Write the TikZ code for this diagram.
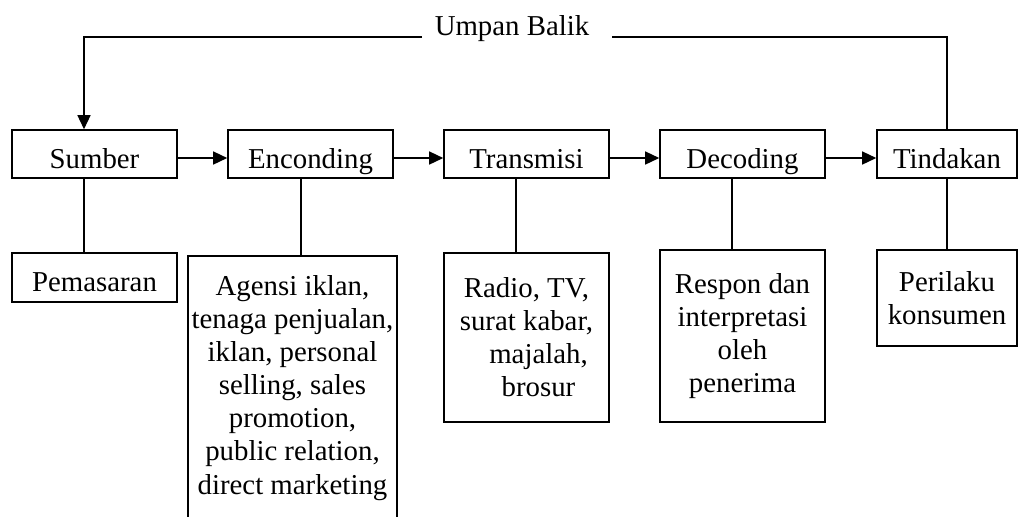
\documentclass[tikz,border=0pt]{standalone}
\usepackage{fontspec}
\setmainfont{Liberation Serif}
\usetikzlibrary{arrows.meta}
\tikzset{
  kotak/.style={draw, line width=0.9pt, inner xsep=1pt, align=center, minimum width=3.3cm},
  satubaris/.style={kotak, minimum height=0.96cm, text height=0.56cm, text depth=0pt},
  garis/.style={line width=0.8pt},
  panah/.style={garis, -{Triangle[length=0.28cm, width=0.26cm]}},
}
\begin{document}
\begin{tikzpicture}[font=\fontsize{16.4pt}{18.8pt}\selectfont]
  \useasboundingbox (0,0) rectangle (20.38,-10.32);
  \clip (0,0) rectangle (20.38,-10.32);
  % alur utama
  \node[satubaris] (sumber) at (1.89,-3.08) {Sumber};
  \node[satubaris] (enc) at (6.21,-3.08) {Enconding};
  \node[satubaris] (trans) at (10.53,-3.08) {Transmisi};
  \node[satubaris] (dec) at (14.85,-3.08) {Decoding};
  \node[satubaris, minimum width=2.8cm] (tind) at (18.94,-3.08) {Tindakan};
  % keterangan
  \node[satubaris, minimum height=0.98cm] (pemasaran) at (1.89,-5.55) {Pemasaran};
  \node[kotak, minimum width=4.18cm, minimum height=5.28cm] (agensi) at (5.85,-7.76) {Agensi iklan,\\ tenaga penjualan,\\ iklan, personal\\ selling, sales\\ promotion,\\ public relation,\\ direct marketing};
  \node[kotak, minimum height=3.38cm] (media) at (10.53,-6.75) {Radio, TV,\\ surat kabar,\\ \hspace{0.48cm}majalah,\\ \hspace{0.48cm}brosur};
  \node[kotak, minimum height=3.44cm] (respon) at (14.85,-6.72) {Respon dan\\ interpretasi\\ oleh\\ penerima};
  \node[kotak, minimum width=2.8cm, minimum height=1.92cm] (perilaku) at (18.94,-5.96) {Perilaku\\ konsumen};
  % umpan balik
  \node[anchor=base] (fb) at (10.24,-0.70) {Umpan Balik};
  \coordinate (fbL) at (8.44,-0.74);
  \coordinate (fbR) at (12.24,-0.74);
  \draw[garis] (tind.north) |- (fbR);
  \draw[panah] (fbL) -| ([xshift=-0.21cm]sumber.north);
  % panah antar tahap
  \draw[panah] ([yshift=-0.08cm]sumber.east) -- ([yshift=-0.08cm]enc.west);
  \draw[panah] ([yshift=-0.08cm]enc.east) -- ([yshift=-0.08cm]trans.west);
  \draw[panah] ([yshift=-0.08cm]trans.east) -- ([yshift=-0.08cm]dec.west);
  \draw[panah] ([yshift=-0.08cm]dec.east) -- ([yshift=-0.08cm]tind.west);
  % garis ke keterangan
  \draw[garis] ([xshift=-0.21cm]sumber.south) -- ([xshift=-0.21cm]pemasaran.north);
  \draw[garis] ([xshift=-0.19cm]enc.south) -- ([xshift=-0.19cm]enc.south |- agensi.north);
  \draw[garis] ([xshift=-0.21cm]trans.south) -- ([xshift=-0.21cm]trans.south |- media.north);
  \draw[garis] ([xshift=-0.21cm]dec.south) -- ([xshift=-0.21cm]dec.south |- respon.north);
  \draw[garis] (tind.south) -- (perilaku.north);
\end{tikzpicture}
\end{document}
